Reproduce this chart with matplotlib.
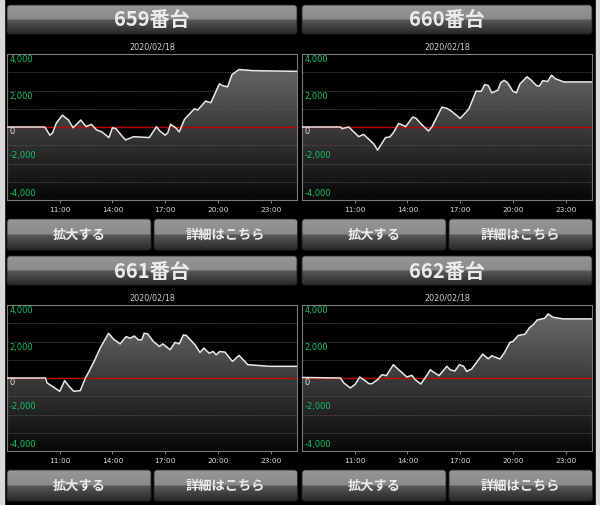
import numpy as np
import matplotlib.pyplot as plt
from matplotlib.patches import FancyBboxPatch, Rectangle

plt.rcParams['font.family'] = ['DejaVu Sans']
JP = ['Noto Sans CJK JP', 'DejaVu Sans']

# --- data ---
machines = ['659番台', '660番台', '661番台', '662番台']
date_label = '2020/02/18'
tick_hours = [11, 14, 17, 20, 23]
tick_labels = ['11:00', '14:00', '17:00', '20:00', '23:00']
y_label_text = ['4,000', '2,000', '0', '-2,000', '-4,000']
btn_left = '拡大する'
btn_right = '詳細はこちら'

hours_659 = [8.0, 10.15, 10.44, 10.6, 10.8, 11.15, 11.5, 11.76, 12.2, 12.5, 12.8, 13.1, 13.4,
             13.8, 14.0, 14.2, 14.5, 14.75, 15.2, 16.1, 16.5, 16.7, 17.0, 17.15, 17.3, 17.6,
             17.8, 18.1, 18.66, 18.85, 19.3, 19.6, 20.08, 20.27, 20.55, 20.8, 21.2, 21.97, 24.5]
diff_659 = [0, 0, -450, -310, 200, 650, 380, -40, 380, 20, 145, -160, -270,
            -580, -40, -90, -450, -710, -530, -580, 20, -220, -450, -310, 145, -40,
            -270, 420, 1000, 930, 1420, 1330, 2360, 2270, 2200, 2870, 3150, 3090, 3050]

hours_660 = [8.0, 10.2, 10.28, 10.66, 11.23, 11.5, 11.8, 12.1, 12.3, 12.75, 13.0, 13.2, 13.5,
             13.9, 14.3, 14.5, 14.8, 15.2, 15.4, 15.96, 16.25, 16.5, 17.0, 17.3, 17.5, 17.9,
             18.2, 18.4, 18.6, 18.8, 19.15, 19.3, 19.5, 19.7, 20.0, 20.2, 20.4, 20.8, 21.05,
             21.34, 21.5, 21.7, 21.97, 22.2, 22.4, 22.9, 24.5]
diff_660 = [0, 0, -90, 0, -530, -400, -670, -950, -1270, -580, -545, -310, 200,
            20, 545, 470, 145, -220, 20, 1090, 1020, 870, 470, 780, 1000, 1960,
            1960, 2330, 2270, 1870, 2020, 2420, 2560, 2420, 1960, 1870, 2360, 2750, 2560,
            2270, 2240, 2545, 2490, 2840, 2650, 2470, 2470]

hours_661 = [8.0, 10.19, 10.28, 10.66, 11.0, 11.28, 11.5, 11.8, 12.17, 12.46, 12.64, 13.0,
             13.3, 13.78, 14.06, 14.44, 14.78, 15.0, 15.25, 15.47, 15.67, 15.8, 16.0, 16.33,
             16.67, 16.86, 17.28, 17.56, 17.8, 18.03, 18.2, 18.7, 18.98, 19.2, 19.5, 19.73,
             19.9, 20.1, 20.4, 20.83, 21.2, 21.7, 22.95, 24.5]
diff_661 = [0, 0, -270, -510, -730, -145, -420, -730, -690, 0, 310, 1000,
            1640, 2450, 2130, 1870, 2270, 2180, 2300, 2090, 2090, 2450, 2420, 2000,
            1730, 1870, 1550, 1950, 1870, 2360, 2330, 1820, 1400, 1640, 1360, 1450,
            1270, 1450, 1420, 910, 1240, 730, 640, 640]

hours_662 = [8.0, 10.19, 10.38, 10.75, 11.04, 11.28, 11.57, 11.8, 11.98, 12.3, 12.55, 12.8,
             12.93, 13.2, 13.5, 13.97, 14.25, 14.44, 14.76, 15.0, 15.3, 15.5, 15.8, 16.24,
             16.43, 16.7, 16.95, 17.2, 17.37, 17.65, 18.28, 18.6, 18.8, 19.26, 19.5, 19.83,
             20.0, 20.3, 20.68, 20.96, 21.15, 21.38, 21.8, 22.0, 22.28, 22.85, 24.5]
diff_662 = [30, 0, -270, -545, -330, 55, -130, -310, -310, -90, 180, 130,
            330, 730, 450, 55, 145, -90, -330, 0, 450, 310, 130, 640,
            450, 380, 730, 640, 360, 490, 1310, 1050, 1220, 1040, 1360, 1950,
            2000, 2330, 2400, 2780, 2910, 3180, 3270, 3510, 3330, 3240, 3240]

series = [(hours_659, diff_659), (hours_660, diff_660),
          (hours_661, diff_661), (hours_662, diff_662)]

# --- layout (pixels) ---
W, H = 600, 505
fig = plt.figure(figsize=(6, 5.05), dpi=100, facecolor='black')
bg = fig.add_axes([0, 0, 1, 1])
bg.set_facecolor('black')
bg.axis('off')
bg.set_autoscale_on(False)
bg.set_xlim(0, W)
bg.set_ylim(H, 0)


def gloss(n=80):
    # light flat top half, sharp step, dark fading bottom half
    t = np.linspace(0, 1, n)
    v = np.where(t < 0.5, 150 - 12 * t / 0.5, 90 - 50 * (t - 0.5) / 0.5)
    return (v / 255)[:, None]


def button(x, y, w, h, text, size):
    patch = FancyBboxPatch((x, y), w, h, boxstyle='round,pad=0,rounding_size=3',
                           fc='none', ec='#262626', lw=0.6, zorder=2)
    bg.add_patch(patch)
    im = bg.imshow(gloss(), cmap='gray', vmin=0, vmax=1, extent=(x, x + w, y + h, y),
                   aspect='auto', origin='upper', zorder=1)
    im.set_clip_path(patch)
    bg.text(x + w / 2, y + h / 2 + 0.5, text, family=JP, fontsize=size, fontweight='bold',
            color='#ececec', ha='center', va='center', zorder=3)


bg.add_patch(Rectangle((0, 0), 4, H, color='#d9d9d9'))
bg.add_patch(Rectangle((596, 0), 4, H, color='#d9d9d9'))

cols = [7, 302]
rows = [0, 251]
pw, ph = 290, 146
grid_vals = [-3000, -2000, -1000, 1000, 2000, 3000]
y_label_pos = [3690, 1690, -270, -1580, -3620]
grad = (np.linspace(112, 8, 200) / 255)[:, None]

for i, name in enumerate(machines):
    x0 = cols[i % 2]
    off = rows[i // 2]
    hrs, vals = series[i]

    button(x0, 5 + off, pw, 29, name, 14.5)
    bg.text(x0 + pw / 2, 47 + off, date_label, fontsize=5.8, color='#d0d0d0',
            ha='center', va='center')
    button(x0, 219 + off, 144, 31, btn_left, 9.5)
    button(x0 + 147, 219 + off, 143.5, 31, btn_right, 9.5)

    top = 54 + off
    ax = fig.add_axes([x0 / W, 1 - (top + ph) / H, pw / W, ph / H])
    ax.set_facecolor('black')
    im = ax.imshow(grad, cmap='gray', vmin=0, vmax=1, extent=(8, 24.5, -4000, 4000),
                   aspect='auto', origin='upper', zorder=0)
    poly = ax.fill_between(hrs, vals, -4000, facecolor='none', lw=0)
    im.set_clip_path(poly.get_paths()[0], transform=ax.transData)
    for v in grid_vals:
        ax.axhline(v, color='#555555', lw=0.6, ls=(0, (1.5, 1.5)), zorder=1)
    ax.axhline(0, color='#c00000', lw=1.0, zorder=2)
    ax.plot(hrs, vals, color='#e8e8e8', lw=1.1, zorder=3)
    ax.set_xlim(8, 24.5)
    ax.set_ylim(-4000, 4000)

    for v, t in zip(y_label_pos, y_label_text):
        ax.text(0.008, v, t, transform=ax.get_yaxis_transform(), fontsize=6,
                color='#e0e0e0' if t == '0' else '#10c468', ha='left', va='center', zorder=4)

    ax.set_xticks(tick_hours, tick_labels)
    ax.set_yticks([])
    ax.tick_params(axis='x', color='#9a9a9a', labelcolor='#d8d8d8', labelsize=5.3,
                   length=2.5, width=0.6, pad=2.5)
    for s in ax.spines.values():
        s.set_color('#7a7a7a')
        s.set_linewidth(0.8)

fig.savefig('out.png', dpi=100, facecolor='black')
